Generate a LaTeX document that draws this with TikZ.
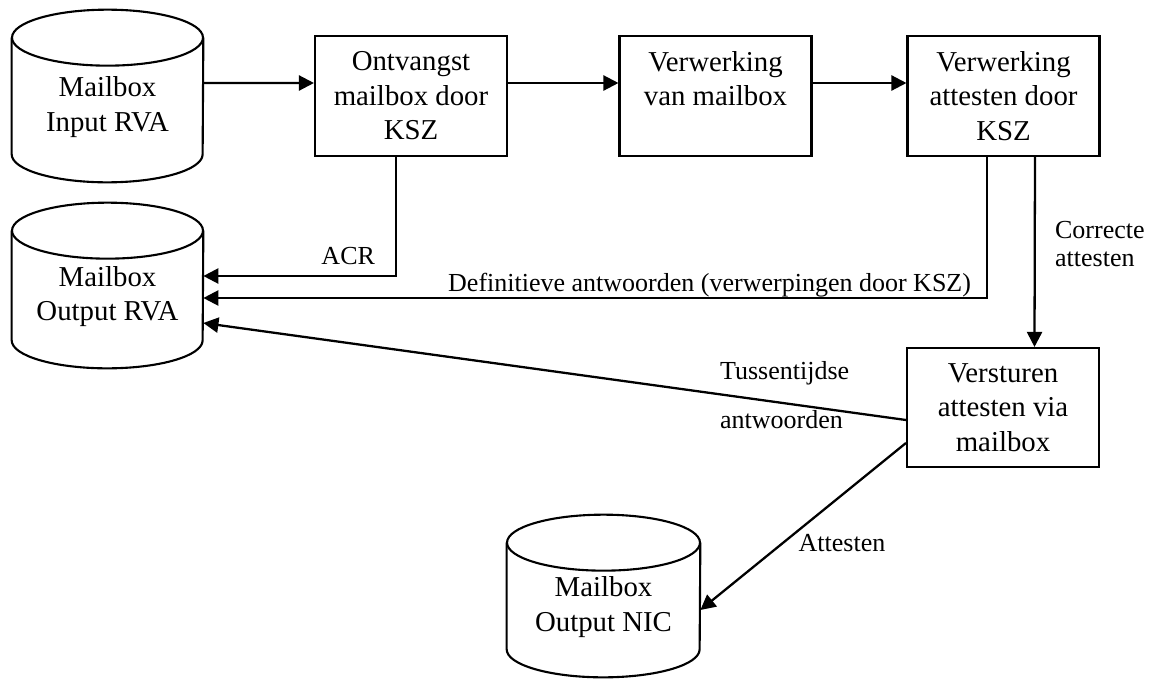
\documentclass[tikz,border=0pt]{standalone}
\usepackage{fontspec}
\setmainfont{Liberation Serif}
\usepackage{tikz}
\usetikzlibrary{arrows.meta}

\newcommand{\boxfont}{\fontsize{16.4}{19.6}\selectfont}
\newcommand{\lblfont}{\fontsize{14.8}{16}\selectfont}
\tikzset{
	proc/.style={draw,line width=1.2pt,rectangle,minimum width=3.84cm,minimum height=2.4cm,align=center,font=\boxfont,inner sep=0pt},
	store/.style={rectangle,minimum width=3.82cm,minimum height=3.0cm,align=center,font=\boxfont,inner sep=0pt},
	flow/.style={line width=1.3pt,-{Triangle[length=8.6pt,width=8.6pt]}},
	lbl/.style={font=\lblfont,inner sep=1pt}
}

\begin{document}
\begin{tikzpicture}[x=0.02cm,y=-0.02cm]
		\useasboundingbox (0,0) rectangle (1149,679);
		\node[store] (inrva) at (107.5,107) {Mailbox\\Input RVA};
		\node[store,minimum height=2.86cm] (outrva) at (107.5,296.5) {Mailbox\\Output RVA};
		\node[store,minimum height=2.8cm,minimum width=3.86cm] (outnic) at (603.5,607) {Mailbox\\Output NIC};
		\foreach \n/\r in {inrva/1.91,outrva/1.91,outnic/1.93}{
			\draw[line width=1.2pt] ([yshift=-0.12cm]\n.north) ellipse[x radius=\r cm,y radius=0.56cm];
			\draw[line width=1.2pt] ([yshift=-0.12cm]\n.north west)--([yshift=0.56cm]\n.south west) arc[start angle=180,end angle=360,x radius=\r cm,y radius=0.56cm]--([yshift=-0.12cm]\n.north east);
		}
		\node[proc] (ontv) at (411,96) {Ontvangst\\mailbox door\\KSZ};
		\node[proc] (verw) at (715.5,96) {Verwerking\\van mailbox\\\mbox{}};
		\node[proc] (attest) at (1003.5,96) {Verwerking\\attesten door\\KSZ};
		\node[proc,minimum height=2.38cm] (verst) at (1003,407.5) {Versturen\\attesten via\\mailbox};
		
		\draw[flow] ([yshift=0.48cm]inrva.east)--([yshift=0.26cm]ontv.west);
		\draw[flow] ([yshift=0.26cm]ontv.east)--([yshift=0.26cm]verw.west);
		\draw[flow] ([yshift=0.26cm]verw.east)--([yshift=0.26cm]attest.west);
		\draw[flow] ([xshift=0.63cm]attest.south)--([xshift=0.63cm]verst.north);
		\draw[flow] ([xshift=-0.3cm]ontv.south) |- node[lbl,pos=0.624,above=5pt]{ACR} ([yshift=0.41cm]outrva.east);
		\draw[flow] ([xshift=-0.33cm]attest.south) |- node[lbl,pos=0.677,above=0pt,inner sep=0pt]{Definitieve antwoorden (verwerpingen door KSZ)} ([yshift=-0.03cm]outrva.east);
		\draw[flow] ([yshift=-0.25cm]verst.west)--([yshift=-0.53cm]outrva.east);
		\draw[flow] ([yshift=-0.71cm]verst.west)--([yshift=-0.06cm]outnic.east);
		
		\node[lbl,anchor=west] (tus) at (718,373) {Tussentijdse};
		\node[lbl,anchor=west] (antw) at (718,420) {antwoorden};
		\node[lbl] (att) at (842,543) {Attesten};
		\node[lbl,anchor=west,align=left] (corr) at (1053,244) {Correcte\\attesten};
	\end{tikzpicture}
\end{document}
